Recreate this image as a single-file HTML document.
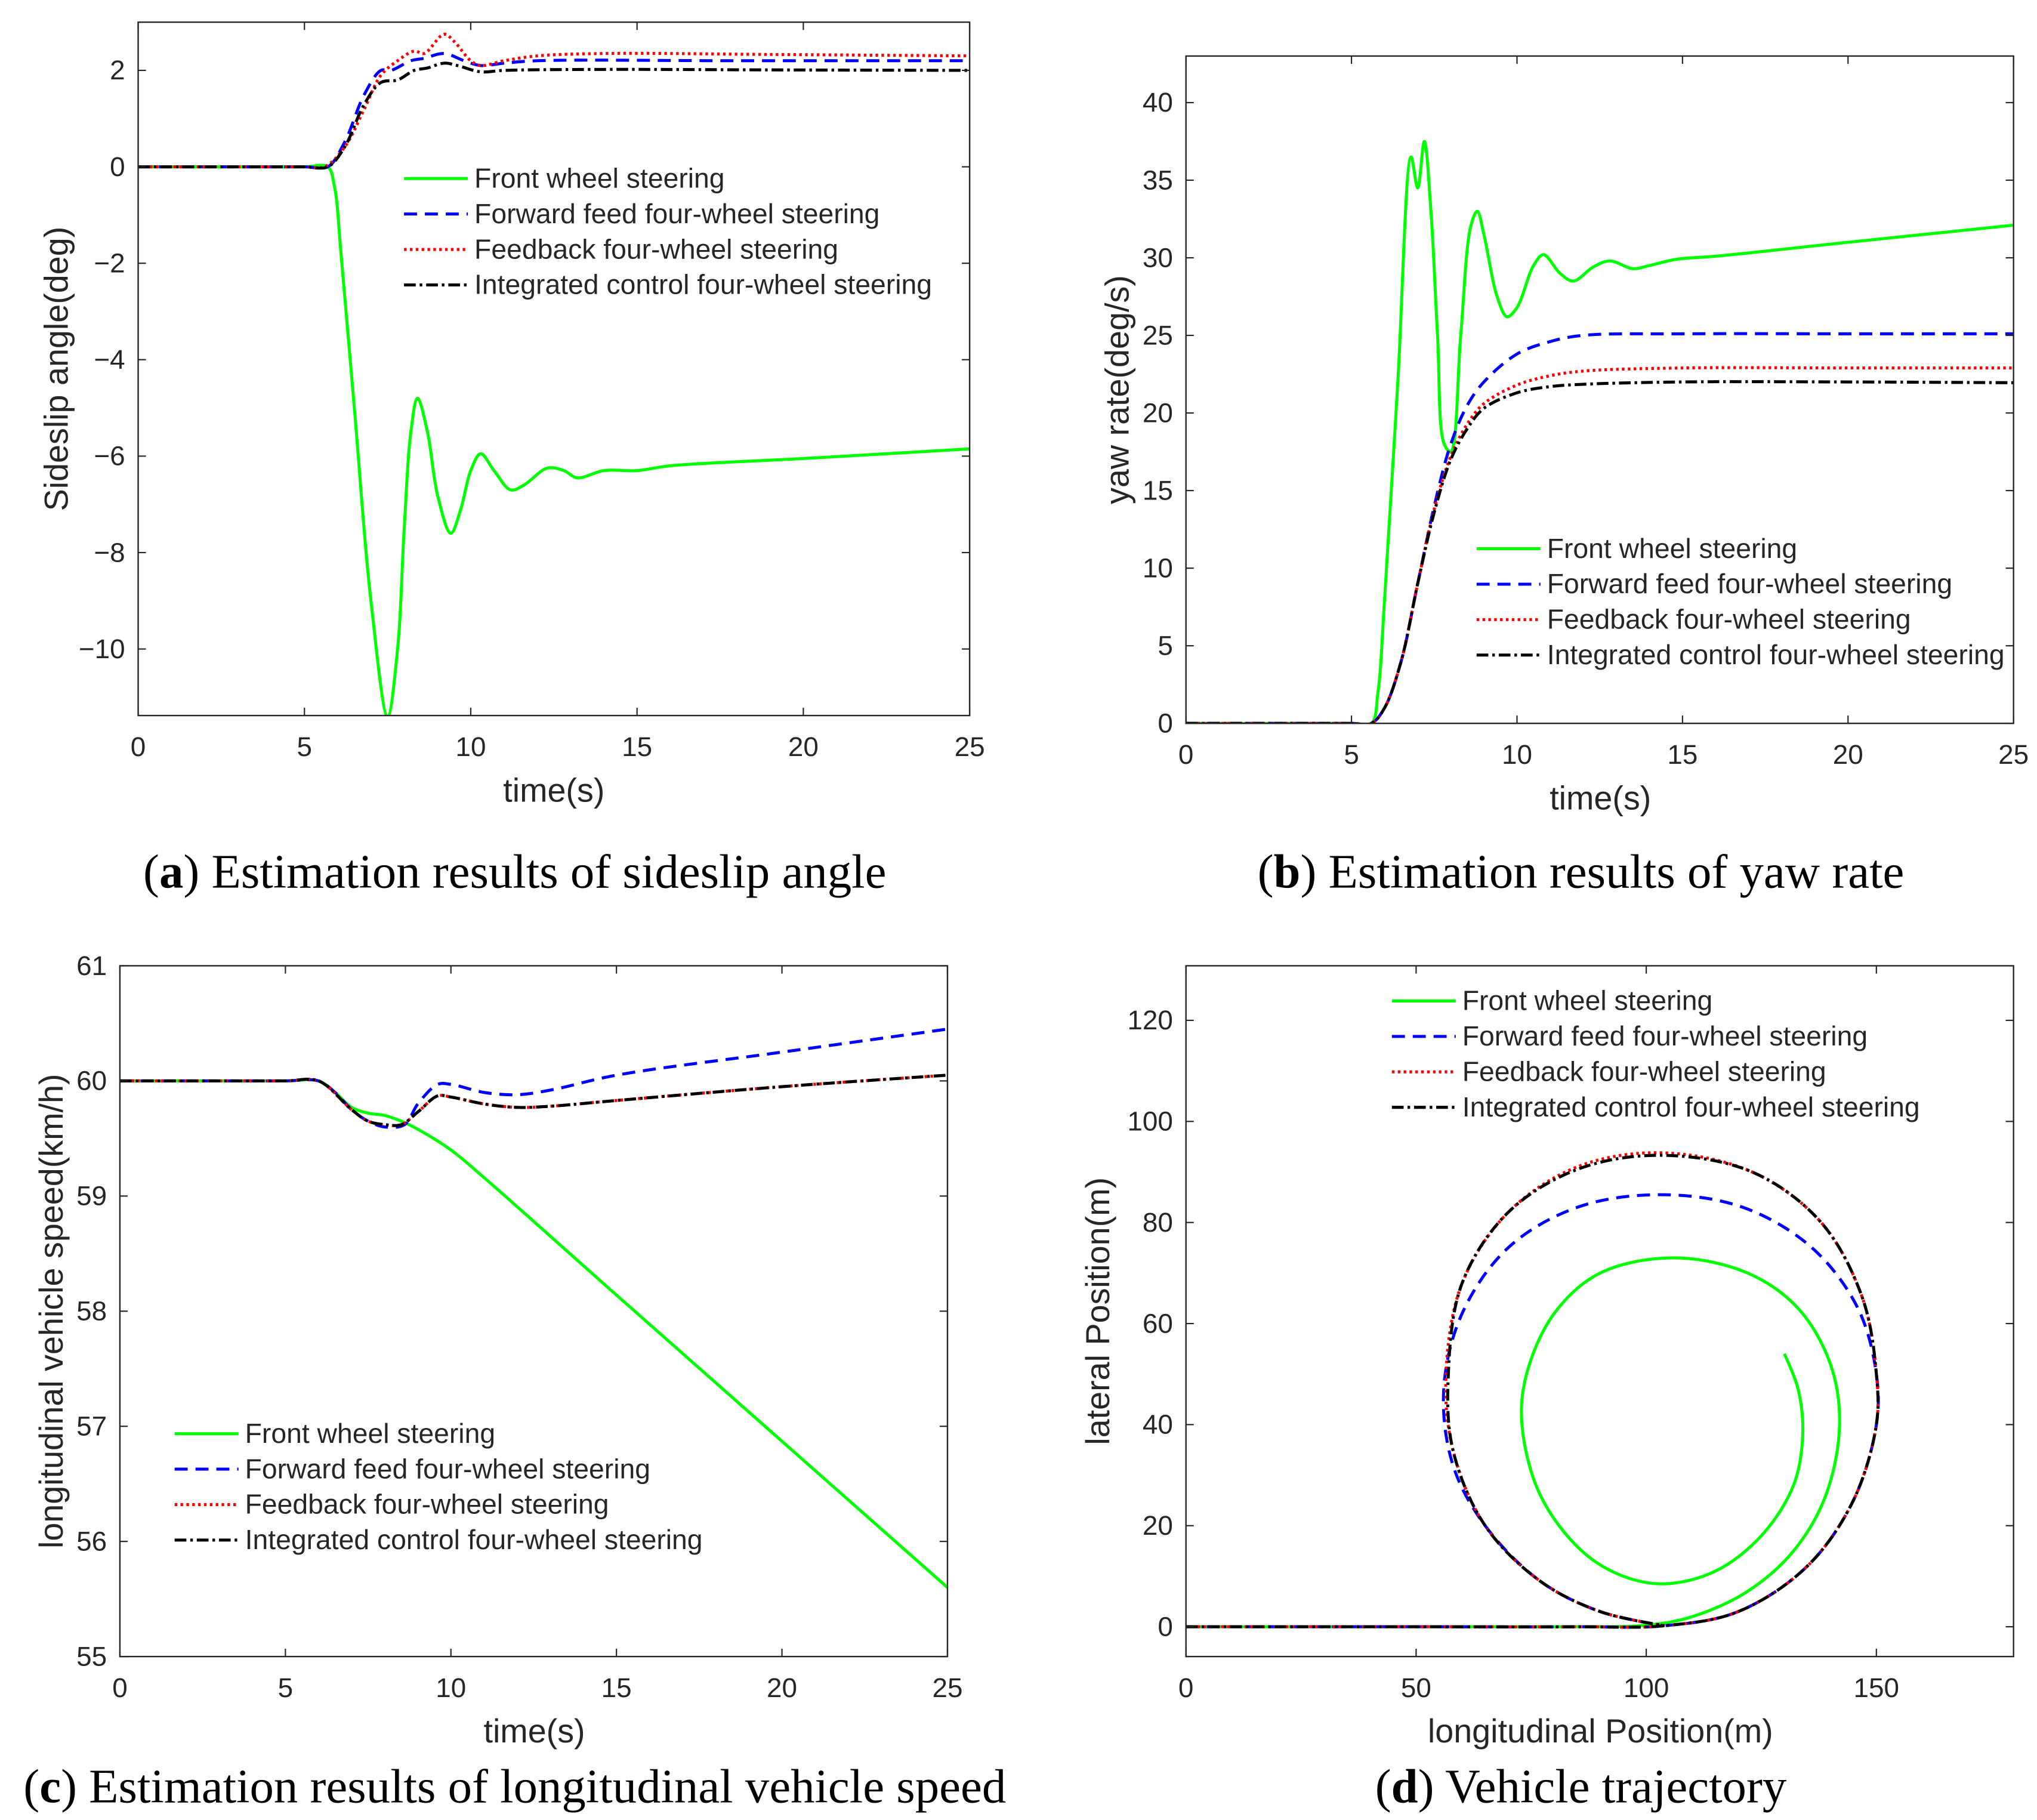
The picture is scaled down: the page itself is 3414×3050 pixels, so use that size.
<!DOCTYPE html>
<html><head><meta charset="utf-8"><style>
html,body{margin:0;padding:0;background:#fff;}
svg{display:block;}
text{font-family:"Liberation Sans",Arial,sans-serif;fill:#262626;}
.cap{font-family:"Liberation Serif","Times New Roman",serif;fill:#000;font-size:37px;}
</style></head><body>
<svg id="fig" width="3414" height="3050" viewBox="0 0 1563 1396.4" preserveAspectRatio="none" xmlns="http://www.w3.org/2000/svg">
<text class="cap" x="395" y="681" text-anchor="middle">(<tspan font-weight="bold">a</tspan>) Estimation results of sideslip angle</text>
<text class="cap" x="1213" y="681" text-anchor="middle">(<tspan font-weight="bold">b</tspan>) Estimation results of yaw rate</text>
<text class="cap" x="395" y="1383" text-anchor="middle">(<tspan font-weight="bold">c</tspan>) Estimation results of longitudinal vehicle speed</text>
<text class="cap" x="1213" y="1383" text-anchor="middle">(<tspan font-weight="bold">d</tspan>) Vehicle trajectory</text>
</svg>
<script>
// ---- Panel (a) sideslip angle data: [time, deg]
const aFront=[[0,0],[3,0],[5,0],[5.7,0],[5.9,-0.4],[6.1,-1.8],[6.5,-5],[7,-9],[7.5,-11.4],[7.8,-10],[8,-7.5],[8.2,-5.5],[8.4,-4.8],[8.7,-5.5],[9,-6.8],[9.4,-7.6],[9.7,-7.1],[10,-6.3],[10.3,-5.95],[10.7,-6.3],[11.2,-6.7],[11.6,-6.6],[12.3,-6.25],[12.8,-6.3],[13.2,-6.45],[14,-6.3],[15,-6.3],[16,-6.2],[20,-6.05],[25,-5.85]];
const aForward=[[0,0],[3,0],[5,0],[5.7,0],[6.2,0.5],[6.8,1.5],[7.3,2.0],[7.6,2.0],[8.2,2.2],[8.6,2.25],[9.2,2.35],[9.8,2.2],[10.3,2.1],[11,2.15],[12,2.2],[18,2.2],[25,2.2]];
const aFeedback=[[0,0],[3,0],[5,0],[5.6,0],[6.2,0.4],[6.8,1.2],[7.3,1.9],[7.8,2.2],[8.3,2.4],[8.6,2.35],[9.2,2.75],[9.5,2.6],[10,2.2],[10.3,2.1],[11,2.2],[12,2.3],[14,2.35],[19,2.33],[25,2.3]];
const aIntegrated=[[0,0],[3,0],[5,0],[5.7,0],[6.2,0.4],[6.8,1.3],[7.3,1.75],[7.8,1.8],[8.3,2.0],[8.7,2.05],[9.2,2.15],[9.6,2.1],[10.3,1.97],[11,2.0],[14,2.02],[19,2.01],[25,2.0]];
const aXTicks=[0,5,10,15,20,25];
const aYTicks=[-10,-8,-6,-4,-2,0,2];
// ---- Panel (b) yaw rate data
const bFront=[[0,0],[3,0],[5,0],[5.6,0],[5.8,2],[6,8],[6.4,22],[6.8,36.5],[7,34.5],[7.2,37.5],[7.4,33],[7.6,25],[7.8,18],[8,17.5],[8.3,25],[8.6,32],[8.8,33],[9,31.5],[9.4,27.5],[9.7,26.2],[10,26.8],[10.5,29.5],[10.8,30.2],[11.3,29],[11.7,28.5],[12.3,29.4],[12.8,29.8],[13.5,29.3],[14,29.5],[14.8,29.9],[16,30.1],[20,31],[25,32.1]];
const bForward=[[0,0],[3,0],[5,0],[5.6,0],[6,1],[6.5,4],[7,9],[7.5,14],[8,18],[8.5,20.5],[9,22],[10,23.8],[11,24.6],[12,25],[15,25.1],[20,25.1],[25,25.1]];
const bFeedback=[[0,0],[3,0],[5,0],[5.6,0],[6,1],[6.5,4],[7,9],[7.5,13.8],[8,17.2],[8.5,19.3],[9,20.6],[10,21.8],[11,22.4],[12,22.7],[15,22.9],[20,22.9],[25,22.9]];
const bIntegrated=[[0,0],[3,0],[5,0],[5.6,0],[6,1],[6.5,4],[7,9],[7.5,13.6],[8,17],[8.5,19],[9,20.3],[10,21.3],[11,21.7],[12,21.85],[15,22],[20,22],[25,21.95]];
const bXTicks=[0,5,10,15,20,25];
const bYTicks=[0,5,10,15,20,25,30,35,40];
// ---- Panel (c) longitudinal speed data
const cFront=[[0,60],[3,60],[5,60],[6,60],[6.5,59.9],[7,59.77],[7.5,59.72],[8,59.7],[8.5,59.65],[9,59.58],[10,59.4],[11,59.16],[15,58.14],[20,56.87],[25,55.6]];
const cForward=[[0,60],[3,60],[5,60],[6,60],[6.5,59.9],[7,59.75],[7.5,59.65],[8,59.6],[8.6,59.62],[9,59.8],[9.6,59.97],[10,59.97],[11,59.9],[12,59.88],[13,59.92],[15,60.05],[20,60.25],[25,60.45]];
const cFeedback=[[0,60],[3,60],[5,60],[6,60],[7,59.75],[7.5,59.65],[8,59.62],[8.5,59.62],[9,59.73],[9.6,59.87],[10,59.86],[11,59.8],[12,59.77],[13,59.78],[15,59.83],[20,59.95],[25,60.05]];
const cIntegrated=[[0,60],[3,60],[5,60],[6,60],[7,59.75],[7.5,59.65],[8,59.62],[8.5,59.62],[9,59.73],[9.6,59.87],[10,59.86],[11,59.8],[12,59.77],[13,59.78],[15,59.83],[20,59.95],[25,60.05]];
const cXTicks=[0,5,10,15,20,25];
const cYTicks=[55,56,57,58,59,60,61];
// ---- Panel (d) trajectory data: [x m, y m]
const dFront=[[0,0],[50,0],[85,0],[100,0.3],[110,2],[122,7],[132,15],[139,26],[142,40],[140,52],[133,63],[122,70],[106,73],[90,70],[80,62],[74,50],[73,40],[77,26],[86,15],[95,10],[104,8.5],[115,11],[125,18],[132,28],[134,38],[133,47],[130,54]];
const dForward=[[0,0],[50,0],[85,0],[104,0.2],[120,3],[135,12],[145,25],[150,40],[150,50],[146,63],[136,75],[121,83],[103,85.5],[85,83],[70,75],[60,62],[56,47],[58,32],[65,20],[77,9],[90,3],[104,0.2]];
const dFeedback=[[0,0],[50,0],[85,0],[104,0.2],[120,3],[135,12],[145,25],[150,40],[150,50],[147,65],[138,80],[123,90],[103,93.8],[85,91],[70,82],[60,68],[56.5,50],[58,35],[65,20],[77,9],[90,3],[104,0.2]];
const dIntegrated=[[0,0],[50,0],[85,0],[104,0.2],[120,3],[135,12],[145,25],[150,40],[150,50],[147,65],[138,80],[123,90],[103,93.3],[85,90.5],[70,82],[60,68],[57,50],[58,35],[65,20],[77,9],[90,3],[104,0.2]];
const dXTicks=[0,50,100,150];
const dYTicks=[0,20,40,60,80,100,120];
const legendLabels=["Front wheel steering","Forward feed four-wheel steering","Feedback four-wheel steering","Integrated control four-wheel steering"];

const NS="http://www.w3.org/2000/svg";
const svg=document.getElementById('fig');
function mk(tag,attrs,parent){const e=document.createElementNS(NS,tag);for(const k in attrs)e.setAttribute(k,attrs[k]);(parent||svg).appendChild(e);return e;}
const styles=[{stroke:"#00ff00",dash:""},{stroke:"#0000ff",dash:"10 6"},{stroke:"#ff0000",dash:"2 2.5"},{stroke:"#000000",dash:"9 3 2 3"}];
function dist(a,b){return Math.sqrt(Math.hypot(b[0]-a[0],b[1]-a[1]));}
function smoothPath(pts){
  let d="M"+pts[0][0].toFixed(2)+","+pts[0][1].toFixed(2);
  for(let i=0;i<pts.length-1;i++){
    const p1=pts[i],p2=pts[i+1];
    const p0=i>0?pts[i-1]:null,p3=i+2<pts.length?pts[i+2]:null;
    const d2=dist(p1,p2);
    let c1=p1.slice(),c2=p2.slice();
    if(p0){const d1=dist(p0,p1);if(d1>1e-6&&d2>1e-6){
      for(let k=0;k<2;k++)c1[k]=(d1*d1*p2[k]-d2*d2*p0[k]+(2*d1*d1+3*d1*d2+d2*d2)*p1[k])/(3*d1*(d1+d2));}}
    if(p3){const d3=dist(p2,p3);if(d3>1e-6&&d2>1e-6){
      for(let k=0;k<2;k++)c2[k]=(d3*d3*p1[k]-d2*d2*p3[k]+(2*d3*d3+3*d3*d2+d2*d2)*p2[k])/(3*d3*(d3+d2));}}
    d+=" C"+c1[0].toFixed(2)+","+c1[1].toFixed(2)+" "+c2[0].toFixed(2)+","+c2[1].toFixed(2)+" "+p2[0].toFixed(2)+","+p2[1].toFixed(2);
  }
  return d;
}
function panel(o){
  const g=mk('g',{});
  
  
  const sx=v=>o.L+(v-o.x0)/(o.x1-o.x0)*(o.R-o.L);
  const sy=v=>o.B-(v-o.y0)/(o.y1-o.y0)*(o.B-o.T);
  const clipId='clip-'+o.id;
  const cp=mk('clipPath',{id:clipId},g);mk('rect',{x:o.L,y:o.T,width:o.R-o.L,height:o.B-o.T},cp);
  const sg=mk('g',{'clip-path':'url(#'+clipId+')'},g);
  o.series.forEach((s,i)=>{
    const p=mk('path',{d:smoothPath(s.map(q=>[sx(q[0]),sy(q[1])])),fill:'none',stroke:styles[i].stroke,'stroke-width':2.3,'stroke-dasharray':styles[i].dash,'stroke-linejoin':'round'},sg);
    
    
  });
  const box=mk('rect',{x:o.L,y:o.T,width:o.R-o.L,height:o.B-o.T,fill:'none',stroke:'#262626','stroke-width':1.1},g);
  
  
  o.xt.forEach(v=>{const x=sx(v);
    mk('line',{x1:x,x2:x,y1:o.B,y2:o.B-6,stroke:'#262626','stroke-width':1},g);
    mk('line',{x1:x,x2:x,y1:o.T,y2:o.T+6,stroke:'#262626','stroke-width':1},g);
    const t=mk('text',{x:x,y:o.B+31,'text-anchor':'middle','font-size':21},g);t.textContent=v;
    
    
  });
  o.yt.forEach(v=>{const y=sy(v);
    mk('line',{x1:o.L,x2:o.L+6,y1:y,y2:y,stroke:'#262626','stroke-width':1},g);
    mk('line',{x1:o.R,x2:o.R-6,y1:y,y2:y,stroke:'#262626','stroke-width':1},g);
    const t=mk('text',{x:o.L-10,y:y+7,'text-anchor':'end','font-size':21},g);t.textContent=(v<0?'\u2212'+(-v):v);
    
    
  });
  const xl=mk('text',{x:o.xlx,y:o.xly,'text-anchor':'middle','font-size':25.5},g);xl.textContent=o.xlabel;
  
  
  const yl=mk('text',{x:0,y:0,'text-anchor':'middle','font-size':25.5,transform:'translate('+o.ylx+','+o.yly+') rotate(-90)'},g);yl.textContent=o.ylabel;
  
  
  const lg=mk('g',{},g);
  
  
  legendLabels.forEach((lab,i)=>{const y=o.legY+i*27.2;
    mk('line',{x1:o.legX,x2:o.legX+49,y1:y,y2:y,stroke:styles[i].stroke,'stroke-width':2.3,'stroke-dasharray':styles[i].dash},lg);
    const t=mk('text',{x:o.legX+54,y:y+7,'font-size':21.2,fill:'#000'},lg);t.textContent=lab;
    
    
  });
}
panel({id:'a',L:106,R:744,T:17,B:549,x0:0,x1:25,y0:-11.38,y1:3.0,series:[aFront,aForward,aFeedback,aIntegrated],xt:aXTicks,yt:aYTicks,xlabel:'time(s)',xlx:425,xly:615,ylabel:'Sideslip angle(deg)',ylx:52,yly:283,legX:310,legY:137});
panel({id:'b',L:910,R:1545,T:43,B:555,x0:0,x1:25,y0:0,y1:43.0,series:[bFront,bForward,bFeedback,bIntegrated],xt:bXTicks,yt:bYTicks,xlabel:'time(s)',xlx:1228,xly:621,ylabel:'yaw rate(deg/s)',ylx:866,yly:299,legX:1133,legY:421});
panel({id:'c',L:92,R:727,T:741,B:1271,x0:0,x1:25,y0:55,y1:61,series:[cFront,cForward,cFeedback,cIntegrated],xt:cXTicks,yt:cYTicks,xlabel:'time(s)',xlx:410,xly:1337,ylabel:'longitudinal vehicle speed(km/h)',ylx:48,yly:1006,legX:134,legY:1100});
panel({id:'d',L:910,R:1545,T:741,B:1271,x0:0,x1:179.8,y0:-5.9,y1:130.8,series:[dFront,dForward,dFeedback,dIntegrated],xt:dXTicks,yt:dYTicks,xlabel:'longitudinal Position(m)',xlx:1228,xly:1337,ylabel:'lateral Position(m)',ylx:851,yly:1006,legX:1068,legY:768});
</script>
</body></html>
